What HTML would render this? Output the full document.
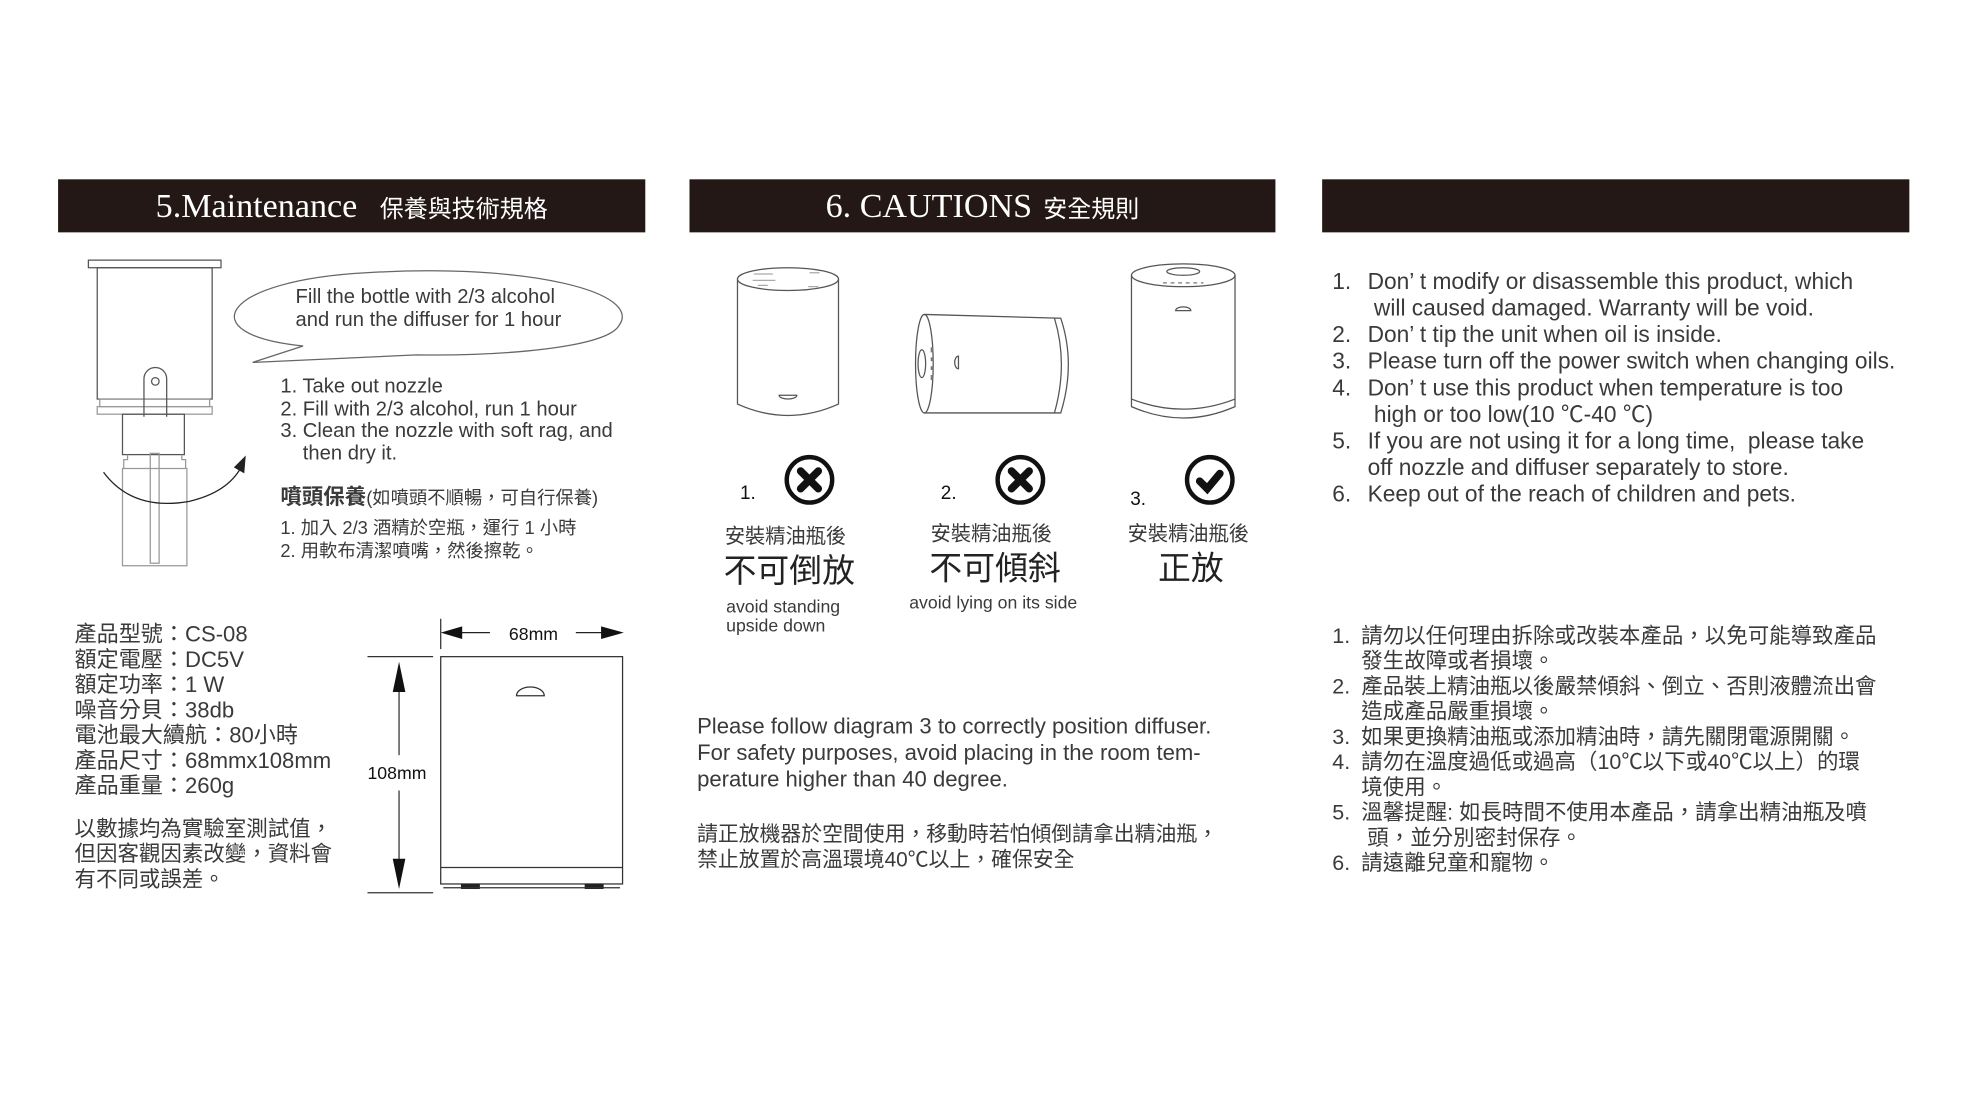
<!DOCTYPE html>
<html><head><meta charset="utf-8"><style>
html,body{margin:0;padding:0;background:#fff;width:1980px;height:1114px;overflow:hidden}
#w{position:absolute;left:0;top:0;width:1568px;height:882px;transform:scale(1.2628);transform-origin:0 0;font-family:"Liberation Sans","Noto Sans CJK TC",sans-serif;color:#3a3a3a}
.t{position:absolute;white-space:nowrap;line-height:1}
.hd{position:absolute;top:142px;height:42px;background:#231815;color:#fff;text-align:center;line-height:42px;white-space:nowrap}
.hd .s{font-family:"Liberation Serif",serif;font-size:27px}
.hd .c{font-family:"Noto Sans CJK TC",sans-serif;font-size:19px}
svg{position:absolute;left:0;top:0}
</style></head><body><div id="w">
<div class="hd" style="left:46px;width:465px"><span class="s">5.Maintenance</span>&nbsp;&nbsp;&nbsp;&nbsp;<span class="c">保養與技術規格</span></div>
<div class="hd" style="left:546px;width:464px"><span class="s">6. CAUTIONS</span>&nbsp;&nbsp;<span class="c">安全規則</span></div>
<div class="hd" style="left:1047px;width:465px"></div>

<svg width="1568" height="882" viewBox="0 0 1568 882" fill="none" stroke="#555" stroke-width="1">
<rect x="70" y="206" width="105" height="6"/>
<rect x="77" y="212" width="91" height="104"/>
<rect x="79" y="316" width="87" height="6" stroke="#999"/>
<rect x="77" y="322" width="91" height="6" stroke="#999"/>
<path d="M114 330 V300 a9 9 0 0 1 18 0 V330"/>
<circle cx="123" cy="302" r="3"/>
<rect x="97" y="328" width="49" height="32"/>
<path d="M101 360 v4 h-3 v7 M144 360 v4 h3 v7" stroke="#999"/>
<rect x="97" y="371" width="51" height="77" stroke="#999"/>
<rect x="119" y="359" width="7" height="87" stroke="#999"/>
<path d="M82 374 Q105 405 150 397 Q180 390 191 370" stroke="#222"/>
<path d="M186 370 L194 362 L193 374 Z" fill="#222" stroke="#222"/>
<path d="M240 274 C150 265 175 222 290 216 C420 208 510 232 490 258 C480 275 400 282 330 281 L200 287 Z" stroke="#666"/>
<rect x="349" y="520" width="144" height="180" stroke="#333"/>
<line x1="349" y1="687" x2="493" y2="687" stroke="#333"/>
<rect x="365" y="700" width="15" height="4" fill="#222" stroke="none"/>
<rect x="463" y="700" width="15" height="4" fill="#222" stroke="none"/>
<line x1="351" y1="703" x2="491" y2="703" stroke="#333"/>
<path d="M409 551 a11 7 0 0 1 22 0 Z" stroke="#333"/>
<line x1="349" y1="490" x2="349" y2="514" stroke="#333"/>
<line x1="360" y1="501" x2="388" y2="501" stroke="#222"/>
<path d="M349 501 L366 496 L366 506 Z" fill="#111" stroke="none"/>
<line x1="456" y1="501" x2="480" y2="501" stroke="#222"/>
<path d="M494 501 L476 496 L476 506 Z" fill="#111" stroke="none"/>
<line x1="291" y1="520" x2="343" y2="520" stroke="#333"/>
<line x1="291" y1="707" x2="343" y2="707" stroke="#333"/>
<line x1="316" y1="535" x2="316" y2="598" stroke="#333"/>
<line x1="316" y1="626" x2="316" y2="690" stroke="#333"/>
<path d="M316 524 L311 548 L321 548 Z" fill="#111" stroke="none"/>
<path d="M316 704 L311 680 L321 680 Z" fill="#111" stroke="none"/>
<ellipse cx="624" cy="221" rx="40" ry="9"/>
<path d="M584 221 V320 Q624 338 664 320 V221"/>
<path d="M597 217 h15 M596 222 h18 M600 226 h8 M641 216 h8 M640 227 h8" stroke="#aaa"/>
<path d="M617 313 h14 a7 3 0 0 1 -14 0Z"/>
<ellipse cx="732" cy="288" rx="7" ry="39"/>
<path d="M732 249 L840 252 Q852 288 840 327 L732 327"/>
<path d="M835 252 Q846 288 835 327"/>
<ellipse cx="730" cy="288" rx="3" ry="11"/>
<path d="M738 275 v4 M738 283 v3 M738 290 v3 M738 297 v4" stroke="#777" stroke-width="2"/>
<path d="M759 282 a3 5 0 0 0 0 10 Z"/>
<ellipse cx="937" cy="218" rx="41" ry="9"/>
<ellipse cx="937" cy="215" rx="13" ry="3"/>
<path d="M921 224 h32" stroke="#777" stroke-dasharray="3 3"/>
<path d="M896 218 V322 Q937 340 978 322 V218"/>
<path d="M896 316 Q937 332 978 316"/>
<path d="M931 246 a6 3 0 0 1 12 0 Z"/>
<g stroke="#111" stroke-width="3.5">
<circle cx="641" cy="380" r="18"/><circle cx="808" cy="380" r="18"/><circle cx="958" cy="380" r="18"/>
</g>
<g stroke="#111" stroke-width="6" stroke-linecap="round">
<path d="M634 373 l14 14 M648 373 l-14 14"/>
<path d="M801 373 l14 14 M815 373 l-14 14"/>
<path d="M950 381 l6 6 l10 -12"/>
</g>
</svg>

<div class="t" style="left:234px;top:228px;font-size:16px">Fill the bottle with 2/3 alcohol</div>
<div class="t" style="left:234px;top:246px;font-size:16px">and run the diffuser for 1 hour</div>
<div class="t" style="left:222px;top:298px;font-size:16px;line-height:17.6px">1. Take out nozzle<br>2. Fill with 2/3 alcohol, run 1 hour<br>3. Clean the nozzle with soft rag, and<br>&nbsp;&nbsp;&nbsp; then dry it.</div>
<div class="t" style="left:222px;top:385px;font-size:17px"><b>噴頭保養</b><span style="font-size:14.5px">(如噴頭不順暢，可自行保養)</span></div>
<div class="t" style="left:222px;top:410px;font-size:14.5px;line-height:18px">1. 加入 2/3 酒精於空瓶，運行 1 小時<br>2. 用軟布清潔噴嘴，然後擦乾。</div>
<div class="t" style="left:59px;top:492px;font-size:17.5px;line-height:20px">產品型號：CS-08<br>額定電壓：DC5V<br>額定功率：1 W<br>噪音分貝：38db<br>電池最大續航：80小時<br>產品尺寸：68mmx108mm<br>產品重量：260g</div>
<div class="t" style="left:59px;top:647px;font-size:17px;line-height:20px">以數據均為實驗室測試值，<br>但因客觀因素改變，資料會<br>有不同或誤差。</div>
<div class="t" style="left:403px;top:495px;font-size:14px;color:#111">68mm</div>
<div class="t" style="left:291px;top:605px;font-size:14px;color:#111">108mm</div>

<div class="t" style="left:586px;top:383px;font-size:15px;color:#111">1.</div>
<div class="t" style="left:745px;top:383px;font-size:15px;color:#111">2.</div>
<div class="t" style="left:895px;top:388px;font-size:15px;color:#111">3.</div>
<div class="t" style="left:574px;top:418px;font-size:16px">安裝精油瓶後</div>
<div class="t" style="left:573px;top:439px;font-size:26px;color:#222">不可倒放</div>
<div class="t" style="left:575px;top:473px;font-size:14px;line-height:15px">avoid standing<br>upside down</div>
<div class="t" style="left:737px;top:416px;font-size:16px">安裝精油瓶後</div>
<div class="t" style="left:736px;top:437px;font-size:26px;color:#222">不可傾斜</div>
<div class="t" style="left:720px;top:470px;font-size:14px">avoid lying on its side</div>
<div class="t" style="left:893px;top:416px;font-size:16px">安裝精油瓶後</div>
<div class="t" style="left:917px;top:437px;font-size:26px;color:#222">正放</div>
<div class="t" style="left:552px;top:565px;font-size:17.5px;line-height:21px">Please follow diagram 3 to correctly position diffuser.<br>For safety purposes, avoid placing in the room tem-<br>perature higher than 40 degree.</div>
<div class="t" style="left:552px;top:651px;font-size:16.5px;line-height:20px">請正放機器於空間使用，移動時若怕傾倒請拿出精油瓶，<br>禁止放置於高溫環境40℃以上，確保安全</div>

<div class="t" style="left:1055px;top:213px;font-size:18px;line-height:21px">1.<br><br>2.<br>3.<br>4.<br><br>5.<br><br>6.</div>
<div class="t" style="left:1083px;top:213px;font-size:18px;line-height:21px">Don’ t modify or disassemble this product, which<br>&nbsp;will caused damaged. Warranty will be void.<br>Don’ t tip the unit when oil is inside.<br>Please turn off the power switch when changing oils.<br>Don’ t use this product when temperature is too<br>&nbsp;high or too low(10 ℃-40 ℃)<br>If you are not using it for a long time,&nbsp; please take<br>off nozzle and diffuser separately to store.<br>Keep out of the reach of children and pets.</div>
<div class="t" style="left:1055px;top:494px;font-size:17px;line-height:20px">1.<br><br>2.<br><br>3.<br>4.<br><br>5.<br><br>6.</div>
<div class="t" style="left:1078px;top:494px;font-size:17px;line-height:20px">請勿以任何理由拆除或改裝本產品，以免可能導致產品<br>發生故障或者損壞。<br>產品裝上精油瓶以後嚴禁傾斜、倒立、否則液體流出會<br>造成產品嚴重損壞。<br>如果更換精油瓶或添加精油時，請先關閉電源開關。<br>請勿在溫度過低或過高（10℃以下或40℃以上）的環<br>境使用。<br>溫馨提醒: 如長時間不使用本產品，請拿出精油瓶及噴<br>&nbsp;頭，並分別密封保存。<br>請遠離兒童和寵物。</div>
</div></body></html>
